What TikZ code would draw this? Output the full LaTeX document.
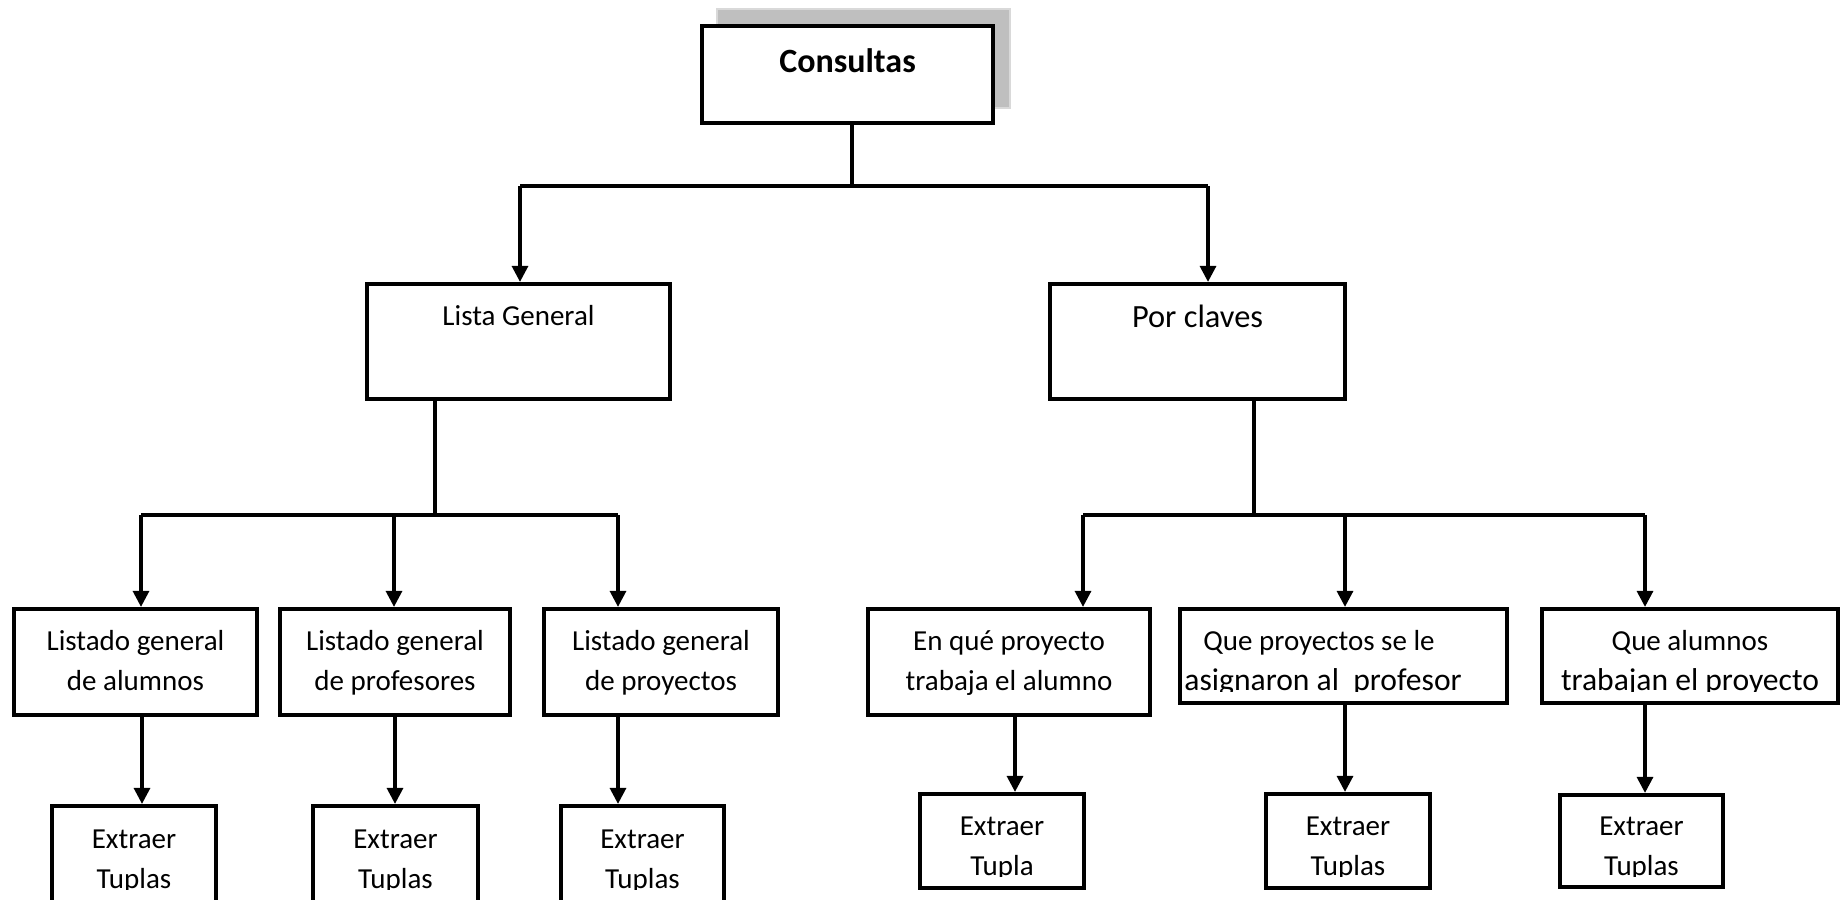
\documentclass[tikz,border=0pt]{standalone}
\usepackage{fontspec}
\setmainfont{Carlito}
\usetikzlibrary{arrows.meta}
\begin{document}
\begin{tikzpicture}[x=0.5pt,y=-0.5pt,
  box/.style={draw=black, line width=2.1pt, fill=white, rectangle, inner sep=0pt},
  shadowbox/.style={draw=black!15, line width=0.8pt, fill=black!25, rectangle, inner sep=0pt},
  lbl/.style={anchor=base, inner sep=0pt, font=\fontsize{14.5}{19}\selectfont},
  lblw/.style={lbl, anchor=base west},
  lbll/.style={anchor=base, inner sep=0pt, font=\fontsize{15.8}{19}\selectfont},
  big/.style={anchor=base, inner sep=0pt, font=\fontsize{16.2}{19}\selectfont},
  conn/.style={line width=1.6pt},
  arr/.style={conn, -{Triangle[width=8pt,length=8pt]}}]
\clip (0,0) rectangle (1845,899);

% ---- root ----
\node[shadowbox, minimum width=146.5pt, minimum height=49.5pt] (consshadow) at (863.5,58.5) {};
\node[box, minimum width=145.5pt, minimum height=48.5pt] (cons) at (847.5,74.5) {};
\node[big, font={\fontsize{17}{19}\selectfont\bfseries}] (const) at (847.5,73) {Consultas};

% ---- second level ----
\node[box, minimum width=151.5pt, minimum height=57.5pt] (lista) at (518.5,341.5) {};
\node[lbl] (listat) at (518.5,325) {Lista General};
\node[box, minimum width=147.5pt, minimum height=57.5pt] (por) at (1197.5,341.5) {};
\node[big] (port) at (1197.5,327) {Por claves};

% ---- third level ----
\node[box, minimum width=121.5pt, minimum height=53pt] (b1) at (135.5,662) {};
\node[lbl] (b1a) at (135.5,650) {Listado general};
\node[lbl] (b1b) at (135.5,690) {de alumnos};

\node[box, minimum width=115pt, minimum height=53pt] (b2) at (395,662) {};
\node[lbl] (b2a) at (395,650) {Listado general};
\node[lbl] (b2b) at (395,690) {de profesores};

\node[box, minimum width=117pt, minimum height=53pt] (b3) at (661,662) {};
\node[lbl] (b3a) at (661,650) {Listado general};
\node[lbl] (b3b) at (661,690) {de proyectos};

\node[box, minimum width=141pt, minimum height=53pt] (b4) at (1009,662) {};
\node[lbl] (b4a) at (1009,650) {En qué proyecto};
\node[lbl] (b4b) at (1009,690) {trabaja el alumno};

\node[box, minimum width=163.5pt, minimum height=47pt] (b5) at (1343.5,656) {};
\begin{scope}
  \clip (1182,611) rectangle (1505,691);
  \node[lblw] (b5a) at (1203,650) {Que proyectos se le};
  \node[lbll, anchor=base west] (b5b) at (1184,690) {asignaron al\ \ profesor};
\end{scope}

\node[box, minimum width=148pt, minimum height=47pt] (b6) at (1690,656) {};
\begin{scope}
  \clip (1544,611) rectangle (1836,691);
  \node[lbl] (b6a) at (1690,650) {Que alumnos};
  \node[lbll] (b6b) at (1690,690) {trabajan el proyecto};
\end{scope}

% ---- leaves ----
\node[box, minimum width=82pt, minimum height=50pt] (e1) at (134,856) {};
\node[box, minimum width=82.5pt, minimum height=50pt] (e2) at (395.5,856) {};
\node[box, minimum width=81.5pt, minimum height=50pt] (e3) at (642.5,856) {};
\begin{scope}
  \clip (0,808) rectangle (1845,889);
  \node[lbl] (e1a) at (134,848) {Extraer};
  \node[lbl] (e1b) at (134,888) {Tuplas};
  \node[lbl] (e2a) at (395.5,848) {Extraer};
  \node[lbl] (e2b) at (395.5,888) {Tuplas};
  \node[lbl] (e3a) at (642.5,848) {Extraer};
  \node[lbl] (e3b) at (642.5,888) {Tuplas};
\end{scope}

\node[box, minimum width=82pt, minimum height=47pt] (e4) at (1002,841) {};
\node[box, minimum width=82pt, minimum height=47pt] (e5) at (1348,841) {};
\node[box, minimum width=81.5pt, minimum height=46pt] (e6) at (1641.5,841) {};
\begin{scope}
  \clip (900,796) rectangle (1845,876);
  \node[lbl] (e4a) at (1002,835) {Extraer};
  \node[lbl] (e4b) at (1002,875) {Tupla};
  \node[lbl] (e5a) at (1348,835) {Extraer};
  \node[lbl] (e5b) at (1348,875) {Tuplas};
  \node[lbl] (e6a) at (1641.5,835) {Extraer};
  \node[lbl] (e6b) at (1641.5,875) {Tuplas};
\end{scope}

% ---- junction points ----
\coordinate (j0) at (852,186);
\coordinate (jl) at (520,186);
\coordinate (jr) at (1208,186);
\coordinate (kl) at (435,515);
\coordinate (k1) at (141,515);
\coordinate (k2) at (394,515);
\coordinate (k3) at (618,515);
\coordinate (kr) at (1254,515);
\coordinate (k4) at (1083,515);
\coordinate (k5) at (1345,515);
\coordinate (k6) at (1645,515);
\coordinate (s1) at (142,760);
\coordinate (s2) at (395,760);
\coordinate (s3) at (618,760);
\coordinate (s4) at (1015,760);
\coordinate (s5) at (1345,760);
\coordinate (s6) at (1645,760);

% ---- connectors ----
\draw[conn] (cons.south -| j0) -- (j0);
\draw[conn] (jl) -- (jr);
\draw[arr] (jl) -- (jl |- lista.north);
\draw[arr] (jr) -- (jr |- por.north);

\draw[conn] (lista.south -| kl) -- (kl);
\draw[conn] (k1) -- (k3);
\draw[arr] (k1) -- (k1 |- b1.north);
\draw[arr] (k2) -- (k2 |- b2.north);
\draw[arr] (k3) -- (k3 |- b3.north);

\draw[conn] (por.south -| kr) -- (kr);
\draw[conn] (k4) -- (k6);
\draw[arr] (k4) -- (k4 |- b4.north);
\draw[arr] (k5) -- (k5 |- b5.north);
\draw[arr] (k6) -- (k6 |- b6.north);

\draw[arr] (b1.south -| s1) -- (s1 |- e1.north);
\draw[arr] (b2.south -| s2) -- (s2 |- e2.north);
\draw[arr] (b3.south -| s3) -- (s3 |- e3.north);
\draw[arr] (b4.south -| s4) -- (s4 |- e4.north);
\draw[arr] (b5.south -| s5) -- (s5 |- e5.north);
\draw[arr] (b6.south -| s6) -- (s6 |- e6.north);
\end{tikzpicture}
\end{document}
